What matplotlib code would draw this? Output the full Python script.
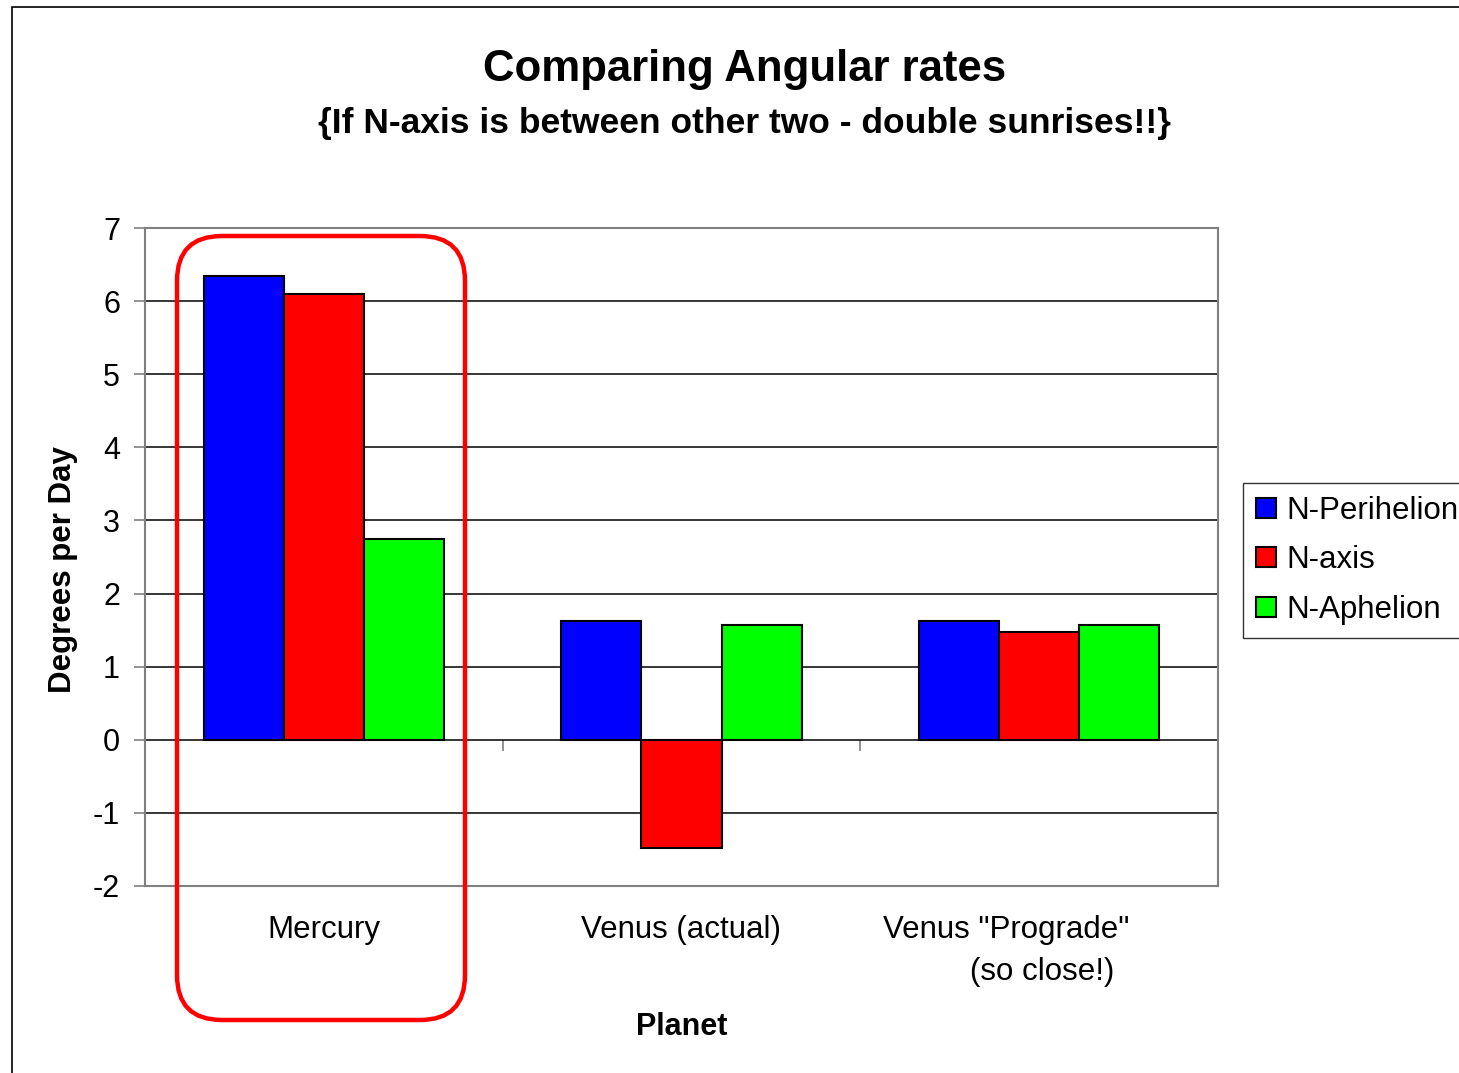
import matplotlib
matplotlib.use("Agg")
import matplotlib.pyplot as plt
import matplotlib.patches as mpatches
import numpy as np

plt.rcParams['font.family'] = ['Liberation Sans', 'DejaVu Sans']

# data (degrees per day)
planets = ["Mercury", "Venus (actual)", 'Venus "Prograde"']
series_names = ["N-Perihelion", "N-axis", "N-Aphelion"]
n_perihelion = [6.35, 1.63, 1.63]
n_axis = [6.10, -1.48, 1.48]
n_aphelion = [2.75, 1.57, 1.57]
colors = ["#0000FF", "#FF0000", "#00FF00"]
y_ticks = [-2, -1, 0, 1, 2, 3, 4, 5, 6, 7]

fig = plt.figure(figsize=(14.59, 10.73), dpi=100)
ax = fig.add_axes([0.0994, 0.1743, 0.7354, 0.6132])

x = np.arange(len(planets))
w = 0.224
for i, (vals, name) in enumerate(zip([n_perihelion, n_axis, n_aphelion], series_names)):
    ax.bar(x + (i - 1) * w, vals, w, color=colors[i], edgecolor="black",
           linewidth=1.5, label=name, zorder=3)

ax.set_xlim(-0.5, 2.5)
ax.set_ylim(-2, 7)
ax.set_yticks(y_ticks)
ax.set_yticklabels([str(t) for t in y_ticks], fontsize=22)
ax.yaxis.grid(True, color="black", linewidth=1.1, zorder=0)
ax.tick_params(axis="y", direction="out", length=8, width=1.2, color="#808080", pad=10)
for sp in ax.spines.values():
    sp.set_color("#808080")
    sp.set_linewidth(1.5)

# category labels below the plot
ax.set_xticks([])
xt = ax.get_xaxis_transform()
ax.text(0, -0.067, planets[0], transform=xt, ha="center", va="center", fontsize=22.5)
ax.text(1, -0.067, planets[1], transform=xt, ha="center", va="center", fontsize=22.5)
ax.text(1.908, -0.067, planets[2], transform=xt, ha="center", va="center", fontsize=22.5)
ax.text(2.008, -0.13, "(so close!)", transform=xt, ha="center", va="center", fontsize=22.5)

# category axis crossing at zero, with tick marks between groups
sec = ax.secondary_xaxis(2 / 9)
sec.set_xticks([0.5, 1.5])
sec.set_xticklabels([])
sec.tick_params(direction="out", length=8, width=1.2, color="#808080")
sec.spines["bottom"].set_visible(False)

fig.text(0.5106, 0.935, "Comparing Angular rates", ha="center", va="center",
         fontsize=31.5, fontweight="bold")
fig.text(0.5106, 0.885, "{If N-axis is between other two - double sunrises!!}",
         ha="center", va="center", fontsize=25.5, fontweight="bold")
fig.text(63 / 1459, 1 - 570 / 1073, "Degrees per Day", rotation=90, ha="center",
         va="center", fontsize=22.5, fontweight="bold")
fig.text(0.467, 0.0429, "Planet", ha="center", va="center", fontsize=22, fontweight="bold")

leg = ax.legend(loc="upper left", bbox_to_anchor=(0.852, 0.55), bbox_transform=fig.transFigure,
                fontsize=22.5, frameon=True, fancybox=False, edgecolor="black",
                handlelength=0.62, handleheight=0.62, handletextpad=0.33,
                labelspacing=0.62, borderpad=0.42, borderaxespad=0)
leg.get_frame().set_linewidth(1.0)

# outer chart border and the red highlight around Mercury
fig.patches.append(mpatches.Rectangle((12 / 1459, -0.1), 1.2, 1.1 - 7 / 1073,
                                      transform=fig.transFigure, fill=False,
                                      edgecolor="black", linewidth=1.2))
fig.patches.append(mpatches.FancyBboxPatch((177, 1073 - 1020), 288, 784,
                                           boxstyle="round,pad=0,rounding_size=45",
                                           transform=None, fill=False,
                                           edgecolor="#FF0000", linewidth=3.2, zorder=5))

fig.savefig("out.png", dpi=100)
